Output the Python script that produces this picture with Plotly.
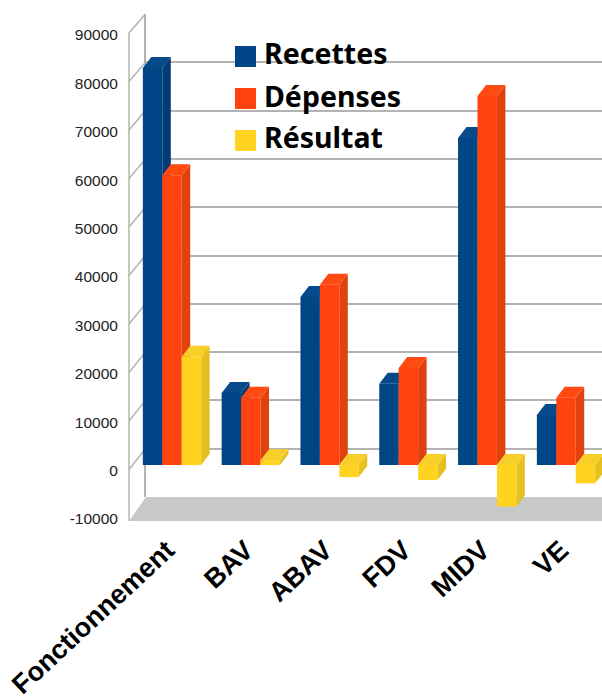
import plotly.graph_objects as go

W, H = 602, 700
categories = ["Fonctionnement", "BAV", "ABAV", "FDV", "MIDV", "VE"]
recettes = [82200, 14900, 34800, 16800, 67700, 10350]
depenses = [60000, 13900, 37300, 20100, 76400, 13900]
resultat = [22400, 1000, -2500, -3100, -8600, -3800]
series_names = ["Recettes", "Dépenses", "Résultat"]
front_colors = ["#004586", "#ff420e", "#ffd320"]
side_colors = ["#033c74", "#e0420e", "#e6c020"]
top_colors = ["#064a8c", "#ff4a12", "#f7cf28"]
axis_ticks = [-10000, 0, 10000, 20000, 30000, 40000, 50000, 60000, 70000, 80000, 90000]
axis_tick_labels = ["-10000", "0", "10000", "20000", "30000", "40000", "50000", "60000", "70000", "80000", "90000"]

# geometry of the pseudo-3D projection (pixels)
PX_PER_GROUP = 78.8
GROUP0_PX = 172.0
BAR_ZERO_PX = 465.0
PX_PER_UNIT = 48.3 / 10000
BAR_FRACTION = 58.3 / 78.8
DX_PX, DY_PX = 8.5, 11.0

xr = [-GROUP0_PX / PX_PER_GROUP, (W - GROUP0_PX) / PX_PER_GROUP]
yr = [-(H - BAR_ZERO_PX) / PX_PER_UNIT, BAR_ZERO_PX / PX_PER_UNIT]
dx = DX_PX / PX_PER_GROUP
dy = DY_PX / PX_PER_UNIT
bw = BAR_FRACTION / 3


def px(x):
    return x / W


def py(y):
    return 1 - y / H


fig = go.Figure()

# back wall (native gridlines)
fig.add_trace(go.Scatter(x=[0], y=[0], xaxis="x", yaxis="y", mode="markers",
                         marker=dict(opacity=0), hoverinfo="skip", showlegend=False))

# side and top faces
for s, vals in enumerate([recettes, depenses, resultat]):
    sx, sy, tx, ty = [], [], [], []
    for i, v in enumerate(vals):
        left = i - BAR_FRACTION / 2 + s * bw
        right = left + bw
        top = max(v, 0)
        bottom = min(v, 0)
        sx += [right, right + dx, right + dx, right, right, None]
        sy += [bottom, bottom + dy, top + dy, top, bottom, None]
        tx += [left, left + dx, right + dx, right, left, None]
        ty += [top, top + dy, top + dy, top, top, None]
    fig.add_trace(go.Scatter(x=sx, y=sy, xaxis="x2", yaxis="y2", mode="lines", line=dict(width=0),
                             fill="toself", fillcolor=side_colors[s], hoverinfo="skip", showlegend=False))
    fig.add_trace(go.Scatter(x=tx, y=ty, xaxis="x2", yaxis="y2", mode="lines", line=dict(width=0),
                             fill="toself", fillcolor=top_colors[s], hoverinfo="skip", showlegend=False))

# front faces
for s, vals in enumerate([recettes, depenses, resultat]):
    fig.add_trace(go.Bar(x=list(range(len(categories))), y=vals, name=series_names[s],
                         xaxis="x3", yaxis="y3", marker=dict(color=front_colors[s], line=dict(width=0)),
                         showlegend=False))

# front value axis
fig.add_trace(go.Scatter(x=[0], y=[0], xaxis="x2", yaxis="y4", mode="markers",
                         marker=dict(opacity=0), hoverinfo="skip", showlegend=False))

shapes = [
    dict(type="path", xref="paper", yref="paper", layer="below", line=dict(width=0), fillcolor="#c8c8c8",
         path=f"M {px(129)} {py(521)} L {px(146)} {py(497)} L 1 {py(497)} L 1 {py(521)} Z"),
    dict(type="line", xref="paper", yref="paper", layer="below", x0=px(129), x1=px(129), y0=py(33), y1=py(521),
         line=dict(color="#b3b3b3", width=1.5)),
]
for k, t in enumerate(axis_ticks):
    yf = 518 - 48.5 * k
    yb = 497 - 48.3 * k
    if k == 0:
        continue
    shapes.append(dict(type="line", xref="paper", yref="paper", layer="below",
                       x0=px(129), y0=py(yf), x1=px(145.5), y1=py(yb),
                       line=dict(color="#b3b3b3", width=1.5)))

ann = []
for i, n in enumerate(series_names):
    top = 46 + 42 * i
    shapes.append(dict(type="rect", xref="paper", yref="paper", layer="above",
                       x0=px(235), x1=px(256), y0=py(top), y1=py(top + 21),
                       fillcolor=front_colors[i], line=dict(width=0)))
    ann.append(dict(text=f"<b>{n}</b>", xref="paper", yref="paper", x=px(262), y=py(top + 7.5),
                    xanchor="left", yanchor="middle", showarrow=False,
                    font=dict(family="Noto Sans", size=28.5, color="#000000")))

fig.update_layout(
    width=W, height=H, margin=dict(l=0, r=0, t=0, b=0), autosize=False,
    paper_bgcolor="white", plot_bgcolor="rgba(0,0,0,0)",
    barmode="group", bargap=1 - BAR_FRACTION, bargroupgap=0,
    showlegend=False, shapes=shapes, annotations=ann,
    xaxis=dict(domain=[px(145.5), 1], range=[0, 1], visible=False, automargin=False),
    yaxis=dict(domain=[py(497), py(14)], range=[-10000, 90000], tickvals=axis_ticks, showticklabels=False,
               showgrid=True, gridcolor="#b3b3b3", gridwidth=2, zeroline=False, showline=True,
               linecolor="#b3b3b3", linewidth=2, ticks="", automargin=False),
    xaxis2=dict(domain=[0, 1], range=xr, visible=False, automargin=False),
    yaxis2=dict(domain=[0, 1], range=yr, visible=False, automargin=False),
    xaxis3=dict(domain=[0, 1], range=xr, overlaying="x2", anchor="free", position=py(528),
                tickmode="array", tickvals=list(range(len(categories))), ticktext=categories,
                tickangle=-43, showgrid=False, zeroline=False, showline=False, ticks="", automargin=False,
                ticklabelshift=-5,
                tickfont=dict(family="Liberation Sans", size=27, color="#000000", weight="bold")),
    yaxis3=dict(domain=[0, 1], range=yr, overlaying="y2", visible=False, automargin=False),
    yaxis4=dict(domain=[py(519), py(35)], range=[-10000, 90000], tickmode="array", tickvals=axis_ticks,
                ticktext=axis_tick_labels, anchor="free",
                position=px(129), side="left", showgrid=False, zeroline=False, showline=False,
                ticks="outside", ticklen=8, tickcolor="rgba(0,0,0,0)", automargin=False,
                tickfont=dict(family="Liberation Sans", size=15.5, color="#222222")),
)

fig.write_html("out.html", config={"displayModeBar": False},
               post_script="document.body.style.margin='0';document.body.style.overflow='hidden';")
